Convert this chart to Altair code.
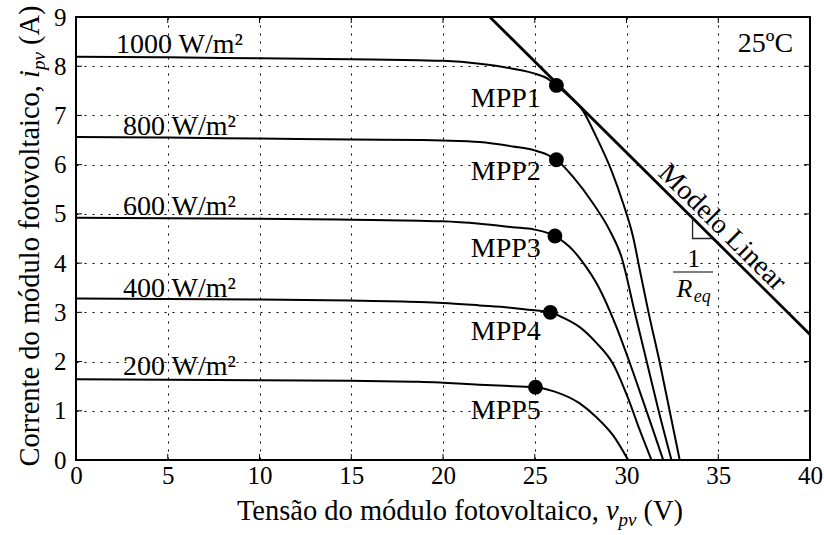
import altair as alt
import pandas as pd

FONT = "Liberation Serif"

# ---------------- data ----------------
x_ticks = [0, 5, 10, 15, 20, 25, 30, 35, 40]
y_ticks = [0, 1, 2, 3, 4, 5, 6, 7, 8, 9]

irr_names = ["1000 W/m²", "800 W/m²", "600 W/m²", "400 W/m²", "200 W/m²"]

v1000 = [0, 5, 10, 15, 18.7, 20, 22, 23.8, 25, 25.7, 26.18, 26.9, 27.55, 28.36, 29.18, 29.82, 30.36, 30.73, 31.2, 31.8, 32.35, 32.9]
i1000 = [8.19, 8.18, 8.16, 8.14, 8.12, 8.11, 8.05, 7.95, 7.85, 7.75, 7.61, 7.38, 7.14, 6.56, 5.88, 5.21, 4.53, 3.85, 3.0, 2.0, 1.0, 0.0]

v800 = [0, 5, 10, 15, 18.7, 20, 22, 23.8, 25, 25.7, 26.18, 27.09, 28.18, 29.09, 29.73, 30.45, 31.1, 31.75, 32.45]
i800 = [6.56, 6.55, 6.53, 6.51, 6.50, 6.49, 6.46, 6.37, 6.29, 6.20, 6.10, 5.75, 5.21, 4.66, 4.12, 3.0, 2.0, 1.0, 0.0]

v600 = [0, 5, 10, 15, 18.7, 20, 22, 23.8, 25, 26.1, 27.09, 27.55, 28.5, 29.4, 30.2, 30.9, 31.5, 32.0]
i600 = [4.92, 4.91, 4.90, 4.88, 4.86, 4.85, 4.80, 4.73, 4.68, 4.55, 4.26, 4.05, 3.5, 2.75, 1.95, 1.2, 0.55, 0.0]

v400 = [0, 5, 10, 15, 18.7, 20, 22, 23.8, 25.0, 25.85, 26.5, 27.45, 28.36, 29.27, 30.09, 30.73, 31.36]
i400 = [3.28, 3.27, 3.26, 3.24, 3.21, 3.19, 3.14, 3.09, 3.04, 3.00, 2.90, 2.70, 2.38, 1.95, 1.25, 0.6, 0.0]

v200 = [0, 5, 10, 15, 18.7, 20, 22, 23.8, 25.04, 26.0, 27.45, 28.36, 29.27, 30.09]
i200 = [1.64, 1.63, 1.62, 1.61, 1.59, 1.57, 1.53, 1.50, 1.48, 1.40, 1.15, 0.87, 0.50, 0.0]

mpp_names = ["MPP1", "MPP2", "MPP3", "MPP4", "MPP5"]
mpp_v = [26.18, 26.18, 26.1, 25.85, 25.04]
mpp_i = [7.61, 6.10, 4.55, 3.00, 1.48]
mpp_label_v = [25.33, 25.33, 25.33, 25.33, 25.33]
mpp_label_i = [7.17, 5.68, 4.12, 2.43, 0.84]

irr_label_v = [5.64, 5.64, 5.64, 5.64, 5.64]
irr_label_i = [8.26, 6.61, 4.97, 3.32, 1.72]

lin_v = [22.55, 40.0]
lin_i = [9.0, 2.55]

temp_text = ["25ºC"]
temp_v = [39.08]
temp_i = [8.29]

model_text = ["Modelo Linear"]
model_v = [34.67]
model_i = [4.52]

tri_v = [33.6, 33.6, 34.68]
tri_i = [4.90, 4.50, 4.50]

frac_num = ["1"]
frac_num_v = [33.67]
frac_num_i = [3.92]
frac_bar_v = [32.54]
frac_bar_v2 = [34.72]
frac_bar_i = [3.82]
frac_r = ["R"]
frac_r_v = [32.73]
frac_r_i = [3.31]
frac_sub = ["eq"]
frac_sub_v = [33.67]
frac_sub_i = [3.20]

x_title_parts = ["Tensão do módulo fotovoltaico,", "v", "pv", "(V)"]
y_title_parts = ["Corrente do módulo fotovoltaico,", "i", "pv", "(A)"]

# ---------------- tables ----------------
rows = []
for name, vs, is_ in zip(irr_names, [v1000, v800, v600, v400, v200], [i1000, i800, i600, i400, i200]):
    for k, (v, i) in enumerate(zip(vs, is_)):
        rows.append({"G": name, "V": v, "I": i, "k": k})
df_curves = pd.DataFrame(rows)
df_lin = pd.DataFrame({"V": lin_v, "I": lin_i})
df_mpp = pd.DataFrame({"V": mpp_v, "I": mpp_i})
df_mpp_lab = pd.DataFrame({"V": mpp_label_v, "I": mpp_label_i, "T": mpp_names})
df_irr_lab = pd.DataFrame({"V": irr_label_v, "I": irr_label_i, "T": irr_names})
df_temp = pd.DataFrame({"V": temp_v, "I": temp_i, "T": temp_text})
df_model = pd.DataFrame({"V": model_v, "I": model_i, "T": model_text})
df_tri = pd.DataFrame({"V": tri_v, "I": tri_i, "k": list(range(len(tri_v)))})
df_num = pd.DataFrame({"V": frac_num_v, "I": frac_num_i, "T": frac_num})
df_bar = pd.DataFrame({"V": frac_bar_v, "V2": frac_bar_v2, "I": frac_bar_i})
df_r = pd.DataFrame({"V": frac_r_v, "I": frac_r_i, "T": frac_r})
df_sub = pd.DataFrame({"V": frac_sub_v, "I": frac_sub_i, "T": frac_sub})
df_xt = pd.DataFrame({"V": x_ticks})
df_yt = pd.DataFrame({"I": y_ticks})

xs = alt.Scale(domain=[0, 40], nice=False, zero=False)
ys = alt.Scale(domain=[0, 9], nice=False, zero=False)

x_axis = alt.Axis(values=x_ticks, grid=True, gridDash=[2, 6], gridColor="#000", gridWidth=1,
                  domain=False, ticks=False, labelFont=FONT, labelFontSize=25, labelColor="#000",
                  labelPadding=3, labelFlush=False, title=None)
y_axis = alt.Axis(values=y_ticks, grid=True, gridDash=[2, 6], gridColor="#000", gridWidth=1,
                  domain=False, ticks=False, labelFont=FONT, labelFontSize=25, labelColor="#000",
                  labelPadding=10, labelFlush=False, title=None)


def X(field="V"):
    return alt.X(f"{field}:Q", scale=xs, axis=x_axis)


def Y(field="I"):
    return alt.Y(f"{field}:Q", scale=ys, axis=y_axis)


curves = alt.Chart(df_curves).mark_line(color="#000", strokeWidth=2, interpolate="monotone").encode(
    x=X(), y=Y(), detail="G:N", order="k:Q",
)

lin = alt.Chart(df_lin).mark_line(color="#000", strokeWidth=2.8).encode(x=X(), y=Y())

pts = alt.Chart(df_mpp).mark_circle(color="#000", size=220, opacity=1).encode(x=X(), y=Y())

mpp_lab = alt.Chart(df_mpp_lab).mark_text(font=FONT, fontSize=28, align="right", baseline="alphabetic",
                                          color="#000").encode(x=X(), y=Y(), text="T:N")

irr_lab = alt.Chart(df_irr_lab).mark_text(font=FONT, fontSize=28, align="center", baseline="alphabetic",
                                          color="#000").encode(x=X(), y=Y(), text="T:N")

temp = alt.Chart(df_temp).mark_text(font=FONT, fontSize=28, align="right", baseline="alphabetic",
                                    color="#000").encode(x=X(), y=Y(), text="T:N")

model = alt.Chart(df_model).mark_text(font=FONT, fontSize=28, align="center", baseline="middle",
                                      angle=44.75, dy=-14, color="#000").encode(x=X(), y=Y(), text="T:N")

tri = alt.Chart(df_tri).mark_line(color="#222", strokeWidth=1.3).encode(x=X(), y=Y(), order="k:Q")

num = alt.Chart(df_num).mark_text(font=FONT, fontSize=25, align="center", baseline="alphabetic",
                                  color="#000").encode(x=X(), y=Y(), text="T:N")
bar = alt.Chart(df_bar).mark_rule(color="#555", strokeWidth=1.5).encode(
    x=X(), x2=alt.X2("V2:Q"), y=Y())
rtxt = alt.Chart(df_r).mark_text(font=FONT, fontSize=26, fontStyle="italic", align="left",
                                 baseline="alphabetic", color="#000").encode(x=X(), y=Y(), text="T:N")
subtxt = alt.Chart(df_sub).mark_text(font=FONT, fontSize=18, fontStyle="italic", align="left",
                                     baseline="alphabetic", color="#000").encode(x=X(), y=Y(), text="T:N")

# inward ticks on all four sides
tick_b = alt.Chart(df_xt).mark_rule(color="#000", strokeWidth=1, y2Offset=-6).encode(
    x=X(), y=alt.Y(datum=0, scale=ys, axis=y_axis), y2=alt.Y2(datum=0))
tick_t = alt.Chart(df_xt).mark_rule(color="#000", strokeWidth=1, y2Offset=6).encode(
    x=X(), y=alt.Y(datum=9, scale=ys, axis=y_axis), y2=alt.Y2(datum=9))
tick_l = alt.Chart(df_yt).mark_rule(color="#000", strokeWidth=1, x2Offset=6).encode(
    y=Y(), x=alt.X(datum=0, scale=xs, axis=x_axis), x2=alt.X2(datum=0))
tick_r = alt.Chart(df_yt).mark_rule(color="#000", strokeWidth=1, x2Offset=-6).encode(
    y=Y(), x=alt.X(datum=40, scale=xs, axis=x_axis), x2=alt.X2(datum=40))

# axis titles with subscripts (pixel placement relative to plot origin)
TS = 28.5
SUB = 19
xv = 530  # start of italic v
xt_y = 503
df_x0 = pd.DataFrame({"T": [x_title_parts[0]]})
df_x1 = pd.DataFrame({"T": [x_title_parts[1]]})
df_x2 = pd.DataFrame({"T": [x_title_parts[2]]})
df_x3 = pd.DataFrame({"T": [x_title_parts[3]]})
xt0 = alt.Chart(df_x0).mark_text(font=FONT, fontSize=TS, align="right", baseline="alphabetic", color="#000",
                                 dx=-7).encode(x=alt.value(xv), y=alt.value(xt_y), text="T:N")
xt1 = alt.Chart(df_x1).mark_text(font=FONT, fontSize=TS, fontStyle="italic", align="left", baseline="alphabetic",
                                 color="#000").encode(x=alt.value(xv), y=alt.value(xt_y), text="T:N")
xt2 = alt.Chart(df_x2).mark_text(font=FONT, fontSize=SUB, fontStyle="italic", align="left", baseline="alphabetic",
                                 color="#000", dx=12.5, dy=6).encode(x=alt.value(xv), y=alt.value(xt_y), text="T:N")
xt3 = alt.Chart(df_x3).mark_text(font=FONT, fontSize=TS, align="left", baseline="alphabetic", color="#000",
                                 dx=37.5).encode(x=alt.value(xv), y=alt.value(xt_y), text="T:N")

yi = 61   # start of italic i (plot coords)
yt_x = -37
df_y0 = pd.DataFrame({"T": [y_title_parts[0]]})
df_y1 = pd.DataFrame({"T": [y_title_parts[1]]})
df_y2 = pd.DataFrame({"T": [y_title_parts[2]]})
df_y3 = pd.DataFrame({"T": [y_title_parts[3]]})
yt0 = alt.Chart(df_y0).mark_text(font=FONT, fontSize=TS, align="right", baseline="alphabetic", color="#000",
                                 angle=270, dx=-7).encode(x=alt.value(yt_x), y=alt.value(yi), text="T:N")
yt1 = alt.Chart(df_y1).mark_text(font=FONT, fontSize=TS, fontStyle="italic", align="left", baseline="alphabetic",
                                 color="#000", angle=270).encode(x=alt.value(yt_x), y=alt.value(yi), text="T:N")
yt2 = alt.Chart(df_y2).mark_text(font=FONT, fontSize=SUB, fontStyle="italic", align="left", baseline="alphabetic",
                                 color="#000", angle=270, dx=8, dy=6).encode(x=alt.value(yt_x), y=alt.value(yi), text="T:N")
yt3 = alt.Chart(df_y3).mark_text(font=FONT, fontSize=TS, align="left", baseline="alphabetic", color="#000",
                                 angle=270, dx=33).encode(x=alt.value(yt_x), y=alt.value(yi), text="T:N")

chart = alt.layer(
    curves, lin, tri, bar, tick_b, tick_t, tick_l, tick_r, pts, mpp_lab, irr_lab, temp, model,
    num, rtxt, subtxt, xt0, xt1, xt2, xt3, yt0, yt1, yt2, yt3
).properties(
    width=734, height=443,
    autosize=alt.AutoSizeParams(type="none"),
    padding={"left": 76, "top": 17, "right": 14, "bottom": 75},
    background="#ffffff",
).configure_view(stroke="#000", strokeWidth=2)

chart.save("out.html", embed_options={"renderer": "svg", "actions": False})
